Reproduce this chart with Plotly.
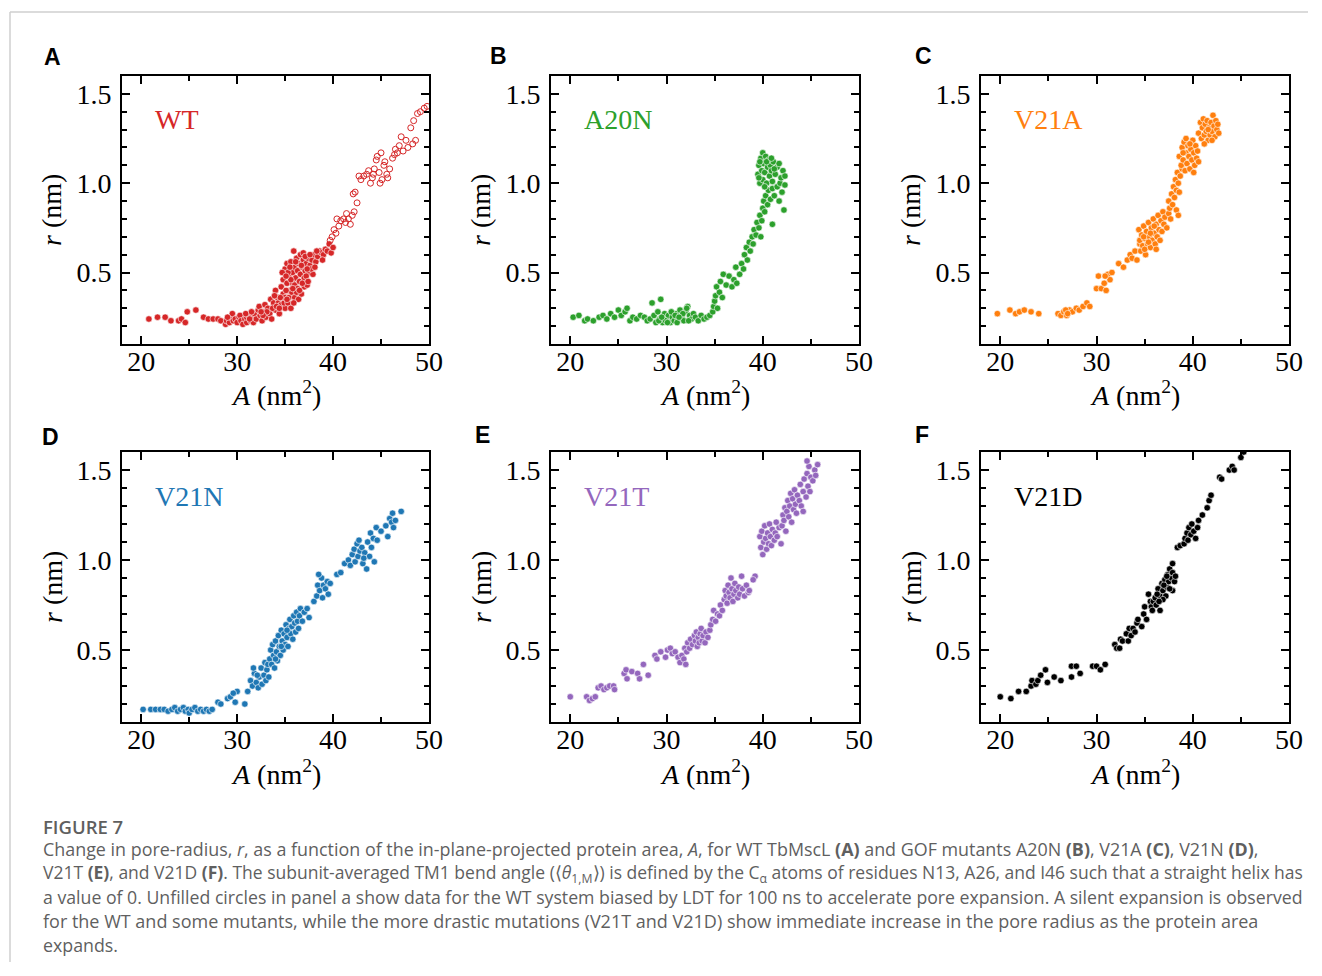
import plotly.graph_objects as go

W, H = 1322, 962
K = 0.9894   # the captured picture comes out horizontally compressed by this factor

# ---------------- data (A in nm^2, r in nm) ----------------
wt_filled = [
    (20.8,0.24),(21.7,0.25),(22.5,0.25),(23.1,0.23),(23.9,0.23),(24.2,0.24),(24.6,0.22),(24.8,0.28),
    (25.7,0.29),(26.5,0.25),(27.0,0.24),(27.5,0.24),(28.0,0.24),(28.3,0.23),(28.8,0.21),(28.9,0.23),
    (29.2,0.22),(29.4,0.25),(29.5,0.27),(29.6,0.23),(29.8,0.24),(30.0,0.22),(30.2,0.25),(30.3,0.26),
    (30.4,0.23),(30.6,0.21),(30.8,0.24),(31.0,0.22),(31.0,0.25),(31.2,0.26),(31.4,0.23),(31.6,0.25),
    (31.7,0.22),(31.8,0.27),(32.0,0.24),(32.2,0.29),(32.3,0.31),(32.4,0.26),(32.6,0.23),(32.8,0.28),
    (32.9,0.32),(33.0,0.25),(33.2,0.30),(33.4,0.27),(33.5,0.35),(33.6,0.24),(33.8,0.33),(34.0,0.29),
    (34.0,0.40),(34.2,0.36),(34.3,0.33),(34.4,0.27),(34.6,0.32),(34.8,0.38),(35.0,0.30),(34.9,0.33),
    (34.6,0.42),(34.8,0.46),(35.0,0.52),(35.0,0.36),(35.2,0.44),(35.2,0.55),(35.3,0.33),(35.4,0.48),
    (35.4,0.36),(35.5,0.40),(35.6,0.56),(35.6,0.30),(35.7,0.39),(35.8,0.50),(35.8,0.44),(35.9,0.62),
    (36.0,0.36),(36.0,0.53),(36.0,0.43),(36.1,0.47),(36.2,0.58),(36.3,0.41),(36.3,0.51),(36.4,0.55),
    (36.4,0.35),(36.5,0.45),(36.6,0.60),(36.6,0.49),(36.7,0.38),(36.8,0.53),(36.9,0.57),(37.0,0.47),
    (37.0,0.42),(37.1,0.51),(37.2,0.55),(37.3,0.43),(37.4,0.58),(37.5,0.50),(37.6,0.54),(37.8,0.57),
    (37.9,0.49),(38.0,0.60),(38.2,0.56),(38.4,0.59),(38.6,0.62),(38.8,0.61),(39.0,0.60),(39.2,0.63),
    (39.4,0.62),(39.6,0.66),(39.8,0.61),(40.0,0.64),(35.1,0.40),(35.9,0.33),(36.8,0.44),(37.7,0.52),
    (33.1,0.28),(33.7,0.30),(34.5,0.36),(35.3,0.50),(36.2,0.39),(37.2,0.48),(38.1,0.53),(38.9,0.57),
    (29.0,0.25),(30.9,0.27),(31.5,0.28),(32.7,0.26),(34.1,0.31),(35.6,0.46),(36.9,0.61),(37.4,0.45),
    (34.7,0.50),(35.1,0.48),(35.5,0.53),(36.1,0.56),(36.7,0.54),(37.1,0.59),(37.6,0.60),(38.3,0.62),
    (35.8,0.41),(36.5,0.40),(37.3,0.52),(33.9,0.37),(34.4,0.30),(35.2,0.35),(32.5,0.28),(31.3,0.24),
]
wt_open = [
    (39.7,0.68),(39.9,0.70),(40.1,0.74),(40.3,0.72),(40.6,0.76),(40.8,0.79),(41.1,0.80),(41.3,0.78),
    (41.6,0.80),(41.8,0.77),(42.0,0.82),(42.2,0.84),(40.4,0.80),(41.4,0.83),(42.1,0.94),(42.3,0.95),
    (42.5,0.89),(42.7,1.04),(42.9,1.02),(43.2,1.04),(43.5,1.05),(43.7,1.07),(43.9,1.00),(44.1,1.03),
    (44.3,1.08),(44.5,1.13),(44.6,1.15),(44.8,1.06),(44.9,1.00),(45.0,1.17),(45.1,1.02),(45.3,1.10),
    (45.6,1.05),(45.7,1.03),(45.9,1.08),(46.2,1.14),(46.4,1.16),(46.5,1.19),(46.7,1.17),(46.9,1.21),
    (47.3,1.18),(47.6,1.24),(47.8,1.20),(48.1,1.31),(48.3,1.22),(48.4,1.35),(48.6,1.24),(48.8,1.39),
    (49.1,1.40),(49.5,1.42),(49.8,1.43),(47.1,1.26),(44.2,1.05),(45.4,1.12),
]
a20n = [
    (20.3,0.25),(20.9,0.26),(21.5,0.23),(21.8,0.24),(22.4,0.23),(23.0,0.25),(23.4,0.26),(23.8,0.24),
    (24.2,0.27),(24.6,0.25),(25.0,0.29),(25.3,0.26),(25.7,0.28),(25.9,0.30),(26.2,0.23),(26.5,0.25),
    (26.9,0.24),(27.3,0.26),(27.7,0.25),(28.0,0.23),(28.3,0.24),(28.5,0.33),(28.7,0.26),(28.9,0.22),
    (29.1,0.28),(29.3,0.24),(29.4,0.35),(29.6,0.22),(29.8,0.27),(30.0,0.24),(30.2,0.26),(30.4,0.22),
    (30.6,0.25),(30.8,0.23),(31.0,0.27),(31.2,0.24),(31.4,0.29),(31.6,0.25),(31.8,0.23),(32.0,0.28),
    (32.2,0.31),(32.4,0.26),(32.6,0.24),(32.8,0.27),(33.0,0.25),(33.3,0.23),(33.6,0.26),(33.9,0.24),
    (34.2,0.25),(34.5,0.26),(34.8,0.28),(29.2,0.23),(29.9,0.23),(30.5,0.28),(31.1,0.22),(31.7,0.27),
    (32.3,0.23),(30.9,0.26),(29.5,0.25),(30.1,0.22),(31.3,0.25),(32.1,0.30),
    (34.9,0.31),(35.0,0.34),(35.1,0.37),(35.2,0.42),(35.3,0.30),(35.5,0.39),(35.6,0.45),(35.8,0.36),
    (35.9,0.49),(36.2,0.43),(36.5,0.48),(36.8,0.42),(37.0,0.46),(37.2,0.53),(37.3,0.44),(37.6,0.49),
    (37.8,0.55),(38.0,0.52),(38.1,0.60),(38.3,0.64),(38.4,0.57),(38.6,0.67),(38.7,0.62),(38.9,0.70),
    (39.0,0.66),(39.1,0.74),(39.3,0.71),(39.4,0.78),(39.6,0.75),(39.7,0.82),(39.9,0.79),(40.0,0.86),
    (40.1,0.90),(40.2,0.84),(40.3,0.93),(40.5,0.88),(40.6,0.96),(40.8,0.91),(41.0,0.97),(41.2,0.93),
    (41.5,0.98),(41.0,0.77),(41.7,0.90),(42.0,0.95),(42.2,0.85),(41.8,1.00),(42.3,0.99),(39.8,0.70),
    (39.5,1.05),(39.6,1.10),(39.7,1.00),(39.8,1.14),(39.9,1.07),(40.0,1.17),(40.0,1.02),(40.1,1.11),
    (40.2,1.06),(40.3,1.15),(40.4,1.00),(40.5,1.09),(40.6,1.13),(40.7,1.04),(40.8,1.10),(40.9,1.07),
    (41.0,1.01),(41.1,1.12),(41.3,1.05),(41.5,1.09),(41.7,1.11),(41.9,1.03),(42.1,1.07),(42.3,1.04),
    (39.7,1.12),(40.2,0.98),(39.6,1.03),(40.4,1.12),(40.9,1.14),(41.2,1.08),
]
v21a = [
    (19.7,0.27),(21.0,0.29),(21.6,0.27),(22.0,0.28),(22.5,0.29),(23.2,0.28),(24.0,0.27),
    (26.0,0.27),(26.3,0.26),(26.6,0.28),(26.9,0.26),(27.2,0.29),(27.5,0.28),(27.9,0.30),(28.2,0.29),
    (28.6,0.31),(29.0,0.33),(29.3,0.31),(26.8,0.29),(27.0,0.27),
    (30.0,0.41),(30.2,0.48),(30.5,0.41),(30.8,0.44),(31.0,0.40),(31.2,0.49),(31.4,0.46),(31.6,0.50),
    (30.9,0.48),(32.3,0.55),(32.8,0.53),(33.2,0.57),(33.5,0.60),(33.7,0.58),(34.0,0.62),(34.2,0.57),
    (34.5,0.66),(34.4,0.74),(34.5,0.68),(34.6,0.62),(34.7,0.71),(34.8,0.65),(34.9,0.76),(35.0,0.69),
    (35.1,0.60),(35.2,0.73),(35.3,0.66),(35.4,0.78),(35.5,0.70),(35.6,0.64),(35.7,0.75),(35.8,0.68),
    (35.9,0.80),(36.0,0.72),(36.1,0.66),(36.2,0.77),(36.3,0.70),(36.4,0.82),(36.5,0.74),(36.6,0.68),
    (36.7,0.79),(36.8,0.73),(36.9,0.84),(37.0,0.77),(37.1,0.81),(37.3,0.75),(37.5,0.83),(37.7,0.80),
    (37.6,0.86),(35.0,0.63),(35.6,0.72),(36.2,0.63),(34.9,0.70),(35.4,0.67),(36.0,0.76),
    (37.5,0.90),(37.8,0.94),(37.9,0.88),(38.0,0.98),(38.1,0.92),(38.2,1.02),(38.3,0.96),(38.4,1.06),
    (38.5,1.00),(38.6,0.95),(38.7,1.04),(38.3,0.85),(38.5,0.82),(38.9,1.08),
    (38.6,1.15),(38.8,1.10),(38.9,1.20),(39.0,1.13),(39.1,1.23),(39.2,1.07),(39.3,1.17),(39.4,1.11),
    (39.5,1.21),(39.6,1.15),(39.7,1.08),(39.8,1.19),(39.9,1.13),(40.0,1.24),(40.1,1.17),(40.2,1.10),
    (40.3,1.21),(40.4,1.14),(40.5,1.18),(40.6,1.12),(39.3,1.25),(39.0,1.17),(39.7,1.22),(40.1,1.06),
    (40.6,1.28),(40.8,1.34),(40.9,1.25),(41.0,1.31),(41.1,1.36),(41.2,1.27),(41.3,1.33),(41.4,1.29),
    (41.5,1.35),(41.6,1.24),(41.7,1.31),(41.8,1.27),(41.9,1.34),(42.0,1.29),(42.1,1.38),(42.2,1.32),
    (42.3,1.26),(42.4,1.35),(42.5,1.30),(42.6,1.33),(42.7,1.28),(41.2,1.22),(41.6,1.30),(42.0,1.24),
]
v21n = [
    (20.2,0.17),(21.0,0.17),(21.5,0.17),(22.0,0.17),(22.4,0.17),(22.8,0.16),(23.2,0.17),(23.5,0.18),
    (23.8,0.16),(24.1,0.17),(24.4,0.18),(24.6,0.16),(24.9,0.17),(25.0,0.15),(25.3,0.17),(25.6,0.18),
    (25.9,0.16),(26.2,0.17),(26.5,0.16),(26.8,0.17),(27.1,0.16),(27.4,0.17),
    (28.0,0.21),(28.3,0.20),(29.0,0.23),(29.3,0.24),(29.8,0.21),(30.0,0.27),(30.8,0.20),(31.1,0.27),
    (29.6,0.26),
    (31.4,0.33),(31.6,0.30),(31.8,0.37),(32.0,0.32),(32.2,0.29),(32.3,0.35),(32.5,0.40),(32.6,0.31),
    (32.8,0.36),(33.0,0.33),(33.1,0.39),(33.3,0.35),(31.7,0.40),(32.9,0.43),(32.1,0.36),(33.2,0.42),
    (33.4,0.45),(33.5,0.50),(33.6,0.42),(33.7,0.53),(33.8,0.47),(33.9,0.40),(34.0,0.55),(34.1,0.49),
    (34.2,0.44),(34.3,0.58),(34.4,0.52),(34.5,0.47),(34.6,0.61),(34.7,0.55),(34.8,0.50),(34.9,0.59),
    (35.0,0.53),(35.1,0.64),(35.2,0.57),(35.3,0.52),(35.4,0.62),(35.5,0.67),(35.6,0.59),(35.7,0.63),
    (35.8,0.56),(35.9,0.69),(36.0,0.65),(36.1,0.60),(36.2,0.71),(36.3,0.66),(36.4,0.62),(36.5,0.69),
    (36.6,0.73),(36.8,0.66),(37.0,0.71),(37.3,0.73),(37.5,0.68),(34.0,0.45),(34.6,0.52),(35.2,0.61),
    (38.0,0.77),(38.3,0.80),(38.4,0.86),(38.6,0.83),(38.8,0.90),(38.9,0.79),(39.0,0.86),(39.2,0.84),
    (39.4,0.88),(39.5,0.81),(39.7,0.87),(38.5,0.92),
    (40.4,0.92),(40.8,0.93),(41.2,0.98),(41.6,1.00),(41.8,0.97),(42.0,1.03),(42.2,1.06),(42.3,0.99),
    (42.5,1.09),(42.6,1.02),(42.8,1.05),(43.0,1.07),(43.1,0.98),(43.3,1.04),(43.5,0.95),(43.6,1.10),
    (43.8,1.02),(43.9,1.15),(44.0,1.07),(44.2,1.12),(44.3,0.99),(44.5,1.18),(44.6,1.11),(45.0,1.16),
    (45.5,1.19),(45.7,1.13),(45.9,1.23),(46.1,1.21),(46.2,1.26),(46.3,1.18),(46.5,1.22),(47.1,1.27),
    (42.7,1.11),(43.2,1.01),
]
v21t = [
    (20.0,0.24),(21.7,0.24),(22.0,0.22),(22.3,0.23),(22.6,0.24),(22.9,0.29),(23.2,0.30),(23.5,0.28),
    (23.8,0.29),(24.1,0.30),(24.5,0.30),(24.6,0.28),
    (25.6,0.37),(25.8,0.39),(25.9,0.34),(26.4,0.38),(27.0,0.37),(27.2,0.34),(27.6,0.42),(28.1,0.36),
    (28.8,0.47),(29.0,0.45),(29.4,0.49),(29.9,0.46),(30.1,0.50),(30.4,0.51),(30.6,0.48),(30.9,0.49),
    (31.2,0.46),(31.4,0.43),(31.6,0.47),(31.8,0.45),(31.9,0.51),(32.0,0.42),(32.1,0.49),(32.2,0.54),
    (32.4,0.51),
    (32.5,0.56),(32.7,0.53),(32.9,0.58),(33.0,0.55),(33.1,0.60),(33.2,0.52),(33.3,0.57),(33.4,0.54),
    (33.5,0.59),(33.6,0.62),(33.7,0.55),(33.8,0.58),(34.0,0.54),(34.1,0.60),(34.3,0.57),(34.5,0.61),
    (34.6,0.64),(34.8,0.67),(34.9,0.72),(35.1,0.66),(35.3,0.70),(35.5,0.69),(35.6,0.75),(35.8,0.72),
    (36.0,0.78),(36.1,0.83),(36.2,0.80),(36.3,0.76),(36.4,0.86),(36.5,0.82),(36.6,0.79),(36.7,0.90),
    (36.8,0.84),(36.9,0.77),(37.0,0.81),(37.1,0.87),(37.2,0.83),(37.4,0.79),(37.5,0.85),(37.6,0.81),
    (37.8,0.91),(37.9,0.84),(38.1,0.80),(38.3,0.86),(38.5,0.82),(39.2,0.91),(39.0,0.89),(38.6,0.83),
    (39.7,1.13),(39.8,1.07),(39.9,1.16),(40.0,1.03),(40.1,1.10),(40.2,1.19),(40.3,1.12),(40.4,1.06),
    (40.5,1.15),(40.6,1.09),(40.7,1.20),(40.8,1.13),(40.9,1.08),(41.0,1.17),(41.2,1.11),(41.3,1.15),
    (41.5,1.13),(41.7,1.18),(41.9,1.09),(41.4,1.21),
    (42.0,1.19),(42.1,1.25),(42.2,1.22),(42.3,1.29),(42.4,1.16),(42.5,1.27),(42.6,1.33),(42.7,1.24),
    (42.8,1.30),(42.9,1.37),(43.0,1.21),(43.1,1.34),(43.2,1.28),(43.3,1.39),(43.4,1.31),(43.5,1.26),
    (43.6,1.36),(43.8,1.33),(43.9,1.42),(44.0,1.30),(44.2,1.38),(44.3,1.45),(44.5,1.35),(44.6,1.48),
    (44.7,1.41),(44.8,1.52),(44.9,1.38),(45.0,1.46),(45.2,1.44),(45.4,1.50),(45.5,1.47),(45.7,1.53),
    (44.6,1.55),(44.2,1.27),
]
v21d = [
    (20.0,0.24),(21.1,0.23),(21.9,0.27),(22.7,0.27),(23.2,0.30),(23.3,0.33),(23.7,0.31),(23.9,0.33),
    (24.2,0.36),(24.7,0.39),(24.9,0.32),(25.6,0.35),(26.3,0.33),(27.4,0.35),(27.4,0.41),(27.9,0.41),
    (28.3,0.37),(29.6,0.41),(30.0,0.41),(30.4,0.39),(30.9,0.42),
    (31.9,0.53),(32.1,0.51),(32.4,0.51),(32.5,0.56),(32.7,0.55),(33.1,0.59),(33.3,0.55),(33.4,0.62),
    (33.8,0.62),(34.2,0.65),(34.3,0.67),(34.7,0.63),(34.9,0.70),(35.0,0.74),(35.2,0.67),(35.4,0.81),
    (35.6,0.77),(35.7,0.74),(35.9,0.77),(36.1,0.79),(36.2,0.75),(36.4,0.84),(36.6,0.80),(36.6,0.72),
    (36.8,0.87),(36.9,0.83),(37.1,0.89),(37.2,0.80),(37.3,0.85),(37.4,0.92),(37.5,0.88),(37.6,0.95),
    (37.8,0.90),(37.9,0.93),(38.1,0.88),(37.9,0.98),(38.2,0.91),(37.9,0.83),(36.3,0.81),(36.9,0.78),
    (37.0,0.86),(37.6,0.84),(37.3,0.91),(36.5,0.77),(35.8,0.72),(33.6,0.58),(34.0,0.60),
    (38.4,1.07),(38.7,1.08),(39.1,1.09),(39.2,1.12),(39.4,1.15),(39.6,1.18),(39.8,1.14),(39.9,1.20),
    (40.1,1.16),(40.3,1.12),(40.5,1.18),(40.6,1.22),(41.0,1.25),(41.5,1.29),(41.7,1.33),(41.9,1.36),
    (42.8,1.46),(43.0,1.45),(43.8,1.50),(44.1,1.52),(44.3,1.50),(45.0,1.57),(45.3,1.60),(39.5,1.11),
]

panel_names = ["WT", "A20N", "V21A", "V21N", "V21T", "V21D"]
panel_letters = ["A", "B", "C", "D", "E", "F"]
panel_colors = ["#d62728", "#2ca02c", "#ff7f0e", "#1f77b4", "#9467bd", "#000000"]
panel_data = [wt_filled, a20n, v21a, v21n, v21t, v21d]

x_ticks = [20, 30, 40, 50]
x_minor = [25, 35, 45]
y_ticks = [0.5, 1.0, 1.5]
y_tick_text = ["0.5", "1.0", "1.5"]
y_minor = [0.2, 0.3, 0.4, 0.6, 0.7, 0.8, 0.9, 1.1, 1.2, 1.3, 1.4]

# ---------------- layout geometry (target pixels from top-left) ----------------
col_px = [(122, 429), (551, 859), (981, 1289)]
row_px = [(76, 344), (452, 722)]
letter_pos = [(52, 57), (498, 56), (923, 56), (50, 437), (482, 435), (922, 435)]

def px(x):
    return x / (W * K)

def py(y):
    return 1 - y / H

fig = go.Figure()
layout_axes = {}
annotations = []
serif = "Liberation Serif"

for i in range(6):
    r, c = divmod(i, 3)
    idx = "" if i == 0 else str(i + 1)
    xa, ya = "x" + idx, "y" + idx
    x0, x1 = col_px[c]
    y0, y1 = row_px[r]
    layout_axes["xaxis" + idx] = dict(
        domain=[px(x0), px(x1)], anchor=ya, range=[18, 50],
        tickvals=x_ticks, ticks="inside", ticklen=8, tickwidth=2, tickcolor="black",
        showline=True, linecolor="black", linewidth=2, mirror="allticks",
        showgrid=False, zeroline=False, ticklabelstandoff=-9,
        tickfont=dict(family=serif, size=28, color="black"),
        minor=dict(tickvals=x_minor, ticks="inside", ticklen=5, tickwidth=1.5,
                   tickcolor="black", showgrid=False),
    )
    layout_axes["yaxis" + idx] = dict(
        domain=[py(y1), py(y0)], anchor=xa, range=[0.1, 1.6],
        tickvals=y_ticks, ticktext=y_tick_text, ticks="inside", ticklen=8, tickwidth=2,
        tickcolor="black", showline=True, linecolor="black", linewidth=2, mirror="allticks",
        showgrid=False, zeroline=False, ticklabelstandoff=3,
        tickfont=dict(family=serif, size=28, color="black"),
        minor=dict(tickvals=y_minor, ticks="inside", ticklen=5, tickwidth=1.5,
                   tickcolor="black", showgrid=False),
    )
    pts = panel_data[i]
    fig.add_trace(go.Scatter(
        x=[p[0] for p in pts], y=[p[1] for p in pts], mode="markers",
        xaxis=xa, yaxis=ya, showlegend=False,
        marker=dict(size=6.5, color=panel_colors[i], line=dict(color="white", width=0.6)),
    ))
    if i == 0:
        fig.add_trace(go.Scatter(
            x=[p[0] for p in wt_open], y=[p[1] for p in wt_open], mode="markers",
            xaxis=xa, yaxis=ya, showlegend=False,
            marker=dict(size=6, symbol="circle-open", color=panel_colors[0],
                        line=dict(color=panel_colors[0], width=1)),
        ))
    annotations.append(dict(
        x=21.2, y=1.355, xref=xa, yref=ya, text=panel_names[i], showarrow=False,
        xanchor="left", yanchor="middle",
        font=dict(family=serif, size=28, color=panel_colors[i]),
    ))
    lx, ly = letter_pos[i]
    annotations.append(dict(
        x=px(lx), y=py(ly), xref="paper", yref="paper", text="<b>%s</b>" % panel_letters[i],
        showarrow=False, xanchor="center", yanchor="middle",
        font=dict(family="Liberation Sans", size=23, color="black"),
    ))
    annotations.append(dict(
        x=px((x0 + x1) / 2), y=py(y1 + 50), xref="paper", yref="paper",
        text="<i>A</i> (nm<sup>2</sup>)", showarrow=False, xanchor="center", yanchor="middle",
        font=dict(family=serif, size=28, color="black"),
    ))
    annotations.append(dict(
        x=px(x0 - 70), y=py((y0 + y1) / 2), xref="paper", yref="paper",
        text="<i>r</i> (nm)", showarrow=False, xanchor="center", yanchor="middle",
        textangle=-90, font=dict(family=serif, size=28, color="black"),
    ))

# ---------------- caption ----------------
cap_font = "Open Sans"
cap_color = "#5f5f5f"
annotations.append(dict(
    x=px(41), y=py(826), xref="paper", yref="paper", text="FIGURE 7", showarrow=False,
    xanchor="left", yanchor="middle", font=dict(family=cap_font, size=18.5, color=cap_color, weight=600),
))
caption_lines = [
    "Change in pore-radius, <i>r</i>, as a function of the in-plane-projected protein area, <i>A</i>, for WT TbMscL <b>(A)</b> and GOF mutants A20N <b>(B)</b>, V21A <b>(C)</b>, V21N <b>(D)</b>,",
    "V21T <b>(E)</b>, and V21D <b>(F)</b>. The subunit-averaged TM1 bend angle (⟨<i>θ</i><sub>1,M</sub>⟩) is defined by the C<sub>α</sub> atoms of residues N13, A26, and I46 such that a straight helix has",
    "a value of 0. Unfilled circles in panel a show data for the WT system biased by LDT for 100 ns to accelerate pore expansion. A silent expansion is observed",
    "for the WT and some mutants, while the more drastic mutations (V21T and V21D) show immediate increase in the pore radius as the protein area",
    "expands.",
]
caption_sizes = [17.9, 17.5, 17.7, 18.0, 17.8]
for k, line in enumerate(caption_lines):
    annotations.append(dict(
        x=px(41), y=py(849 + 24 * k), xref="paper", yref="paper", text=line, showarrow=False,
        xanchor="left", yanchor="middle",
        font=dict(family=cap_font, size=caption_sizes[k], color=cap_color),
    ))

shapes = [
    dict(type="line", xref="paper", yref="paper", x0=px(10), x1=1, y0=py(12), y1=py(12),
         line=dict(color="#cfcfcf", width=1.5)),
    dict(type="line", xref="paper", yref="paper", x0=px(10), x1=px(10), y0=0, y1=py(12),
         line=dict(color="#cfcfcf", width=1.5)),
]

fig.update_layout(
    width=W, height=H, autosize=False, margin=dict(l=0, r=0, t=0, b=0),
    paper_bgcolor="white", plot_bgcolor="white",
    annotations=annotations, shapes=shapes, **layout_axes,
)

fig.write_html("out.html", config={"responsive": False})
